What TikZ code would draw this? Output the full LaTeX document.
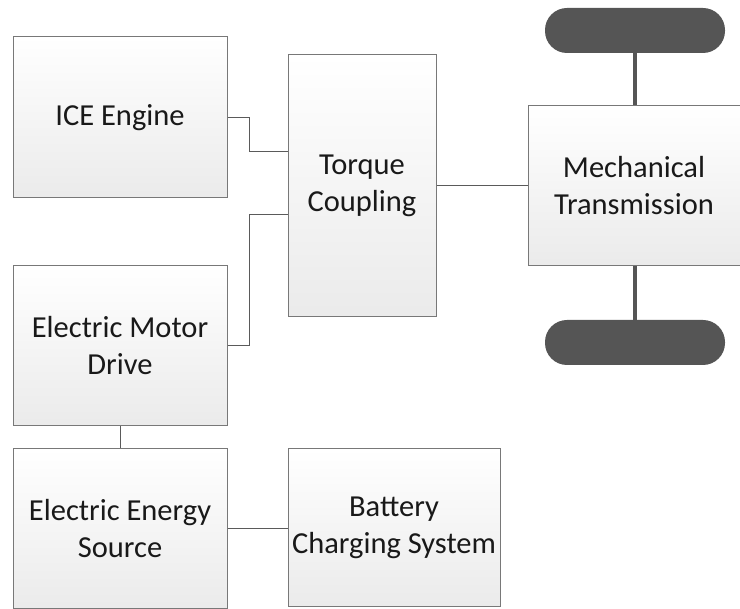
\documentclass[tikz,border=0pt]{standalone}
\usepackage{fontspec}
\setmainfont{Carlito}
\usepackage{tikz}
\usetikzlibrary{positioning,calc}
\definecolor{boxline}{RGB}{120,120,120}
\definecolor{wirecol}{RGB}{90,90,90}
\definecolor{wheelcol}{RGB}{85,85,85}

\begin{document}
\begin{tikzpicture}[x=1pt,y=-1pt,
  every node/.style={font=\fontsize{30.5}{37}\selectfont},
  block/.style={draw=boxline,line width=1pt,top color=white,bottom color=gray!16,
    align=center,inner sep=0pt,text=black!90},
  wheel/.style={fill=wheelcol,rounded corners=22pt,minimum width=180pt,minimum height=45pt},
  wire/.style={draw=wirecol,line width=1pt},
  axle/.style={draw=wheelcol,line width=3.5pt}]
\useasboundingbox (0,0) rectangle (740,609);
% blocks
\node[block,minimum width=214pt,minimum height=161pt] (ice) at (120,117.5) {ICE Engine};
\node[block,minimum width=148pt,minimum height=262pt] (tc) at (362,186) {Torque\\Coupling};
\node[block,minimum width=212pt,minimum height=160pt] (mt) at (634,186) {Mechanical\\Transmission};
\node[block,minimum width=214pt,minimum height=160pt] (emd) at (120,346) {Electric Motor\\Drive};
\node[block,minimum width=214pt,minimum height=160pt] (ees) at (120,529) {Electric Energy\\Source};
\node[block,minimum width=212pt,minimum height=158pt] (bcs) at (394,528) {Battery\\Charging System};
% wheels
\node[wheel] (wtop) at (635,30.5) {};
\node[wheel] (wbot) at (635,342.5) {};
\draw[axle] (wtop.south) -- (wtop.south |- mt.north);
\draw[axle] (wbot.north) -- (wbot.north |- mt.south);
% connectors
\coordinate (tcin1) at (288,152);
\coordinate (tcin2) at (288,215);
\draw[wire] (ice.east) -- ++(22,0) |- (tcin1);
\draw[wire] (emd.east) -- ++(22,0) |- (tcin2);
\draw[wire] (tc.east) -- (mt.west);
\draw[wire] (emd.south) -- (ees.north);
\draw[wire] (ees.east) -- (bcs.west |- ees.east);
\end{tikzpicture}
\end{document}
